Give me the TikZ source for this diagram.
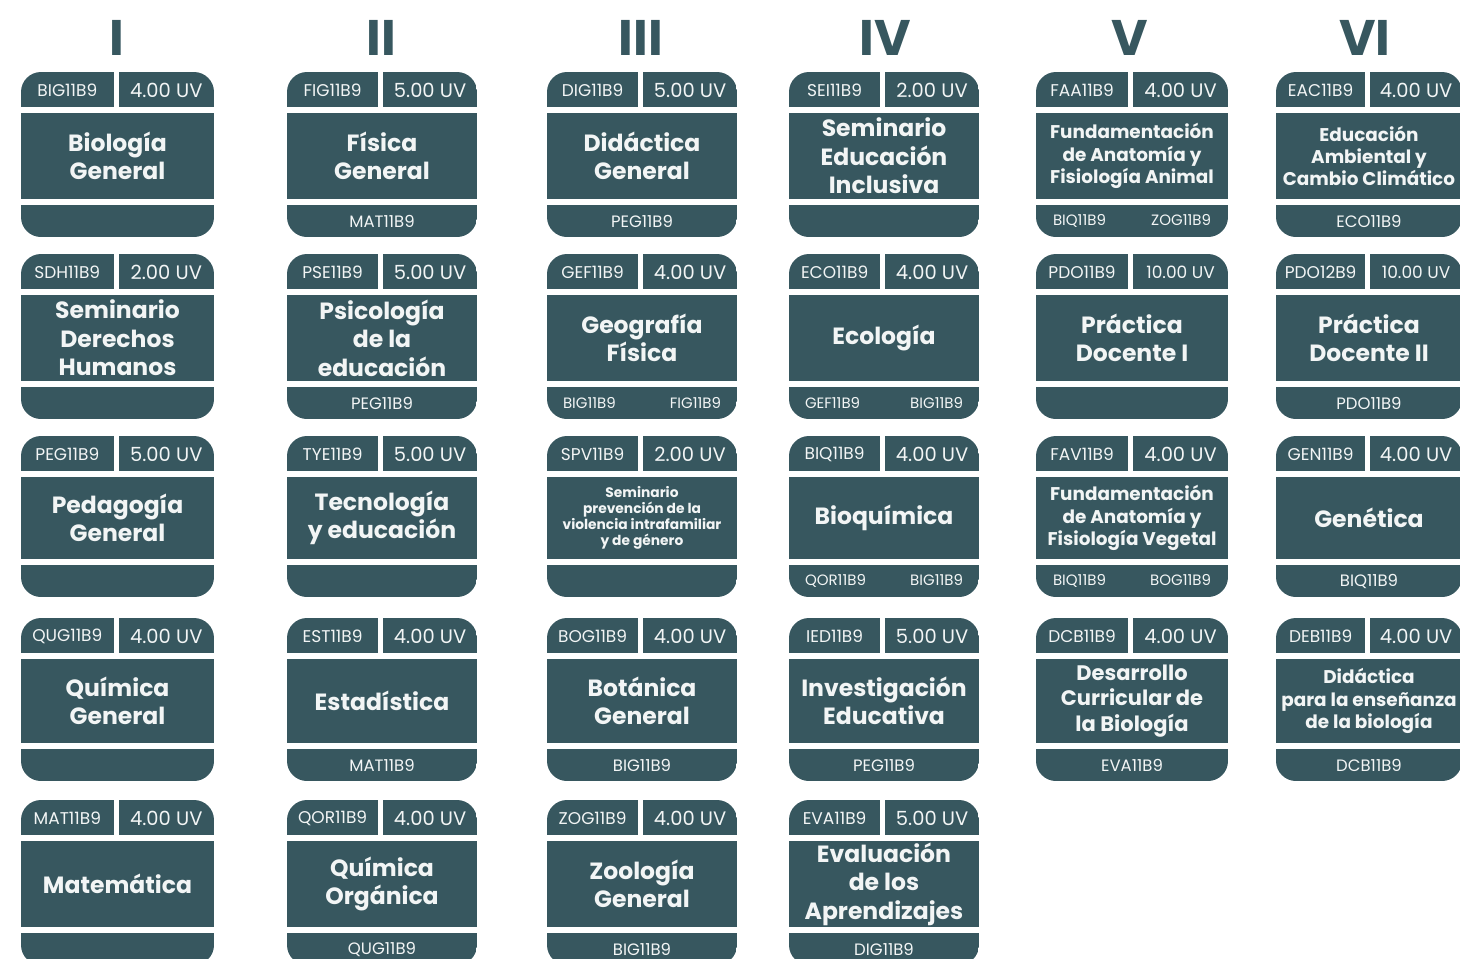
\documentclass[tikz,border=0pt]{standalone}
\usepackage{fontspec}
\setmainfont{Poppins}
\definecolor{tealc}{HTML}{37575F}
\definecolor{txtc}{HTML}{F2F5F5}
\newcommand\Tbig{\fontsize{23.5}{28.5}\selectfont}
\newcommand\Tdcb{\fontsize{21}{25.5}\selectfont}
\newcommand\Tmid{\fontsize{18.4}{22.2}\selectfont}
\newcommand\Tsmall{\fontsize{13.8}{16}\selectfont}
\newcommand\uvsmall{\fontsize{17}{20}\selectfont}
\newcommand\twopre[2]{\fontsize{15}{18}\selectfont #1\hskip 0pt plus 1filll #2}
\def\cardH{165}
\tikzset{
  cardfill/.style={fill=tealc},
  codetxt/.style={text=txtc, font=\fontsize{17}{20}\selectfont, inner sep=0pt},
  uvtxt/.style={text=txtc, font=\fontsize{19.5}{22}\selectfont, inner sep=0pt},
  titletxt/.style={text=txtc, align=center, inner sep=0pt},
  pretxt/.style={text=txtc, font=\fontsize{16.5}{19}\selectfont, text width=158pt, align=center, inner sep=0pt},
  numeral/.style={text=tealc, font=\bfseries\fontsize{50}{50}\selectfont, inner sep=0pt},
}
% #1 x, #2 y, #3 width, #4 code, #5 uv, #6 title font, #7 title, #8 prerequisites, #9 name
\newcommand\card[9]{%
  \begin{scope}
    \clip[rounded corners=20pt] (#1,#2) rectangle ++(#3,\cardH);
    \fill[cardfill] (#1,#2) rectangle ({#1+0.48*#3},{#2+35});
    \fill[cardfill] ({#1+0.48*#3+5},#2) rectangle ({#1+#3},{#2+35});
    \fill[cardfill] (#1,{#2+41}) rectangle ({#1+#3},{#2+\cardH-38});
    \fill[cardfill] (#1,{#2+\cardH-32}) rectangle ({#1+#3},{#2+\cardH});
  \end{scope}
  \node[codetxt] (#9code) at ({#1+0.24*#3},{#2+18}) {#4};
  \node[uvtxt] (#9uv) at ({#1+0.74*#3+2.5},{#2+18}) {#5};
  \node[titletxt, font=\bfseries#6] (#9title) at ({#1+#3/2},{#2+(\cardH+3)/2}) {#7};
  \if\relax\detokenize{#8}\relax\else
    \node[pretxt] (#9pre) at ({#1+#3/2},{#2+\cardH-16}) {#8};
  \fi
}
\begin{document}
\begin{tikzpicture}[x=1pt,y=-1pt]
\useasboundingbox (0,0) rectangle (1460,959);
\clip (0,0) rectangle (1460,959);
% numerals
\node[numeral] (n1) at (117,38) {I};
\node[numeral] (n2) at (381,38) {II};
\node[numeral] (n3) at (641,38) {III};
\node[numeral] (n4) at (885,38) {IV};
\node[numeral] (n5) at (1130,38) {V};
\node[numeral] (n6) at (1365,38) {VI};
% row 1
\def\cardH{165}
\card{21}{72}{193}{BIG11B9}{4.00 UV}{\Tbig}{Biología\\General}{}{big}
\card{287}{72}{190}{FIG11B9}{5.00 UV}{\Tbig}{Física\\General}{MAT11B9}{fig}
\card{547}{72}{190}{DIG11B9}{5.00 UV}{\Tbig}{Didáctica\\General}{PEG11B9}{dig}
\card{789}{72}{190}{SEI11B9}{2.00 UV}{\Tbig}{Seminario\\Educación\\Inclusiva}{}{sei}
\card{1036}{72}{192}{FAA11B9}{4.00 UV}{\Tmid}{Fundamentación\\de Anatomía y\\Fisiología Animal}{\twopre{BIQ11B9}{ZOG11B9}}{faa}
\card{1276}{72}{186}{EAC11B9}{4.00 UV}{\Tmid}{Educación\\Ambiental y\\Cambio Climático}{ECO11B9}{eac}
% row 2
\card{21}{254}{193}{SDH11B9}{2.00 UV}{\Tbig}{Seminario\\Derechos\\Humanos}{}{sdh}
\card{287}{254}{190}{PSE11B9}{5.00 UV}{\Tbig}{Psicología\\de la\\educación}{PEG11B9}{pse}
\card{547}{254}{190}{GEF11B9}{4.00 UV}{\Tbig}{Geografía\\Física}{\twopre{BIG11B9}{FIG11B9}}{gef}
\card{789}{254}{190}{ECO11B9}{4.00 UV}{\Tbig}{Ecología}{\twopre{GEF11B9}{BIG11B9}}{eco}
\card{1036}{254}{192}{PDO11B9}{\uvsmall 10.00 UV}{\Tbig}{Práctica\\Docente I}{}{pdoa}
\card{1276}{254}{186}{PDO12B9}{\uvsmall 10.00 UV}{\Tbig}{Práctica\\Docente II}{PDO11B9}{pdob}
% row 3
\def\cardH{161}
\card{21}{436}{193}{PEG11B9}{5.00 UV}{\Tbig}{Pedagogía\\General}{}{peg}
\card{287}{436}{190}{TYE11B9}{5.00 UV}{\Tbig}{Tecnología\\y educación}{}{tye}
\card{547}{436}{190}{SPV11B9}{2.00 UV}{\Tsmall}{Seminario\\prevención de la\\violencia intrafamiliar\\y de género}{}{spv}
\card{789}{436}{190}{BIQ11B9}{4.00 UV}{\Tbig}{Bioquímica}{\twopre{QOR11B9}{BIG11B9}}{biq}
\card{1036}{436}{192}{FAV11B9}{4.00 UV}{\Tmid}{Fundamentación\\de Anatomía y\\Fisiología Vegetal}{\twopre{BIQ11B9}{BOG11B9}}{fav}
\card{1276}{436}{186}{GEN11B9}{4.00 UV}{\Tbig}{Genética}{BIQ11B9}{gen}
% row 4
\def\cardH{163}
\card{21}{618}{193}{QUG11B9}{4.00 UV}{\Tbig}{Química\\General}{}{qug}
\card{287}{618}{190}{EST11B9}{4.00 UV}{\Tbig}{Estadística}{MAT11B9}{est}
\card{547}{618}{190}{BOG11B9}{4.00 UV}{\Tbig}{Botánica\\General}{BIG11B9}{bog}
\card{789}{618}{190}{IED11B9}{5.00 UV}{\Tbig}{Investigación\\Educativa}{PEG11B9}{ied}
\card{1036}{618}{192}{DCB11B9}{4.00 UV}{\Tdcb}{Desarrollo\\Curricular de\\la Biología}{EVA11B9}{dcb}
\card{1276}{618}{186}{DEB11B9}{4.00 UV}{\Tmid}{Didáctica\\para la enseñanza\\de la biología}{DCB11B9}{deb}
% row 5
\def\cardH{165}
\card{21}{800}{193}{MAT11B9}{4.00 UV}{\Tbig}{Matemática}{}{mat}
\card{287}{800}{190}{QOR11B9}{4.00 UV}{\Tbig}{Química\\Orgánica}{QUG11B9}{qor}
\card{547}{800}{190}{ZOG11B9}{4.00 UV}{\Tbig}{Zoología\\General}{BIG11B9}{zog}
\card{789}{800}{190}{EVA11B9}{5.00 UV}{\Tbig}{Evaluación\\de los\\Aprendizajes}{DIG11B9}{eva}
\end{tikzpicture}
\end{document}
